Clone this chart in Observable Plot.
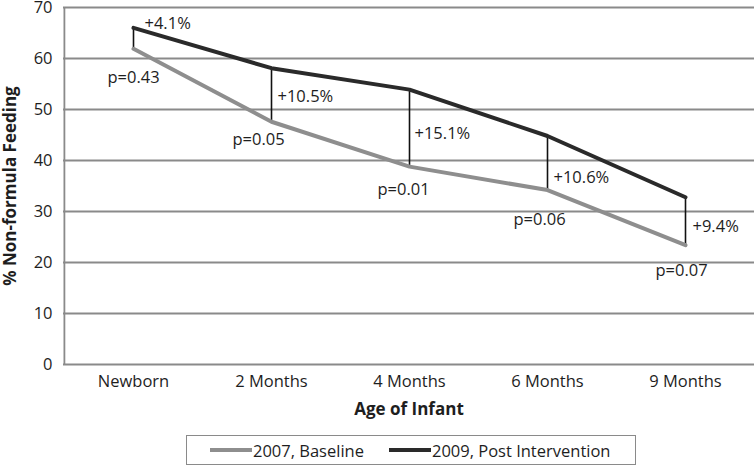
<!DOCTYPE html>
<html>
<head>
<meta charset="utf-8">
<script src="https://cdn.jsdelivr.net/npm/d3@7"></script>
<script src="https://cdn.jsdelivr.net/npm/@observablehq/plot@0.6"></script>
<style>
  html, body { margin: 0; padding: 0; background: #fff; }
  body { width: 754px; height: 475px; overflow: hidden; font-family: "Open Sans", sans-serif; color: #1e1e1e; }
  #legend {
    position: absolute; left: 186px; top: 435px; width: 448px; height: 28px;
    border: 1.5px solid #8a8a8a; box-sizing: content-box;
    display: flex; align-items: center; font-size: 16.5px;
  }
  .sw { display: inline-block; width: 42px; height: 4px; margin-right: 1px; }
  .item { display: flex; align-items: center; }
</style>
</head>
<body>
<div id="chart"></div>
<div id="legend"></div>
<script>
const categories = ["Newborn", "2 Months", "4 Months", "6 Months", "9 Months"];
const baseline2007 = [61.9, 47.6, 38.8, 34.2, 23.4];
const post2009 = [66.0, 58.1, 53.9, 44.8, 32.8];
const diffLabels = ["+4.1%", "+10.5%", "+15.1%", "+10.6%", "+9.4%"];
const pLabels = ["p=0.43", "p=0.05", "p=0.01", "p=0.06", "p=0.07"];
const yTicks = [0, 10, 20, 30, 40, 50, 60, 70];
const seriesNames = ["2007, Baseline", "2009, Post Intervention"];
const xTitle = "Age of Infant";
const yTitle = "% Non-formula Feeding";

const grayC = "#8e8e8e", blackC = "#2a2a2a", gridC = "#8a8a8a";

const rows = categories.map((c, i) => ({cat: c, base: baseline2007[i], post: post2009[i], diff: diffLabels[i], p: pLabels[i]}));
const baseRows = rows.map(r => ({cat: r.cat, v: r.base}));
const postRows = rows.map(r => ({cat: r.cat, v: r.post}));

// label layout offsets (pixels)
const diffDx = [11, 6, 5, 6, 7];
const diffDy = [-15, 2, 6, 15, 6];
const pDx = [0, -13, -6, -8, -4];
const pDy = [29, 18, 23, 30, 26];

const W = 754, H = 428, mL = 63, mR = 0;
const step = (W - mL - mR) / categories.length;
const FS = 16.5;

const marks = [
  Plot.ruleY(yTicks, {stroke: gridC, strokeWidth: 1.8}),
  Plot.ruleX([categories[0]], {dx: -step / 2, stroke: gridC, strokeWidth: 1.8, y1: 0, y2: 70}),
  Plot.link(rows, {x1: "cat", x2: "cat", y1: "base", y2: "post", stroke: "#111", strokeWidth: 1.6}),
  Plot.line(baseRows, {x: "cat", y: "v", stroke: grayC, strokeWidth: 4}),
  Plot.line(postRows, {x: "cat", y: "v", stroke: blackC, strokeWidth: 4}),
  Plot.text([xTitle], {frameAnchor: "bottom", dy: 50, lineAnchor: "bottom", textAnchor: "middle", fontWeight: "bold", fontSize: 17, fill: "#1e1e1e"}),
  Plot.text([yTitle], {frameAnchor: "left", dx: -53, textAnchor: "middle", lineAnchor: "middle", rotate: -90, fontWeight: "bold", fontSize: 17, fill: "#1e1e1e"})
];
rows.forEach((r, i) => {
  marks.push(Plot.text([r], {x: "cat", y: d => (d.base + d.post) / 2, text: "diff", textAnchor: "start", dx: diffDx[i], dy: diffDy[i], fontSize: FS, fill: "#1e1e1e"}));
  marks.push(Plot.text([r], {x: "cat", y: "base", text: "p", textAnchor: "middle", dx: pDx[i], dy: pDy[i], fontSize: FS, fill: "#1e1e1e"}));
});

const chart = Plot.plot({
  width: W, height: H,
  marginLeft: mL, marginRight: mR, marginTop: 7, marginBottom: H - 364,
  style: {fontFamily: "Open Sans", fontSize: FS + "px", color: "#1e1e1e", background: "#fff", overflow: "visible"},
  x: {type: "point", domain: categories, padding: 0.5, tickSize: 0, tickPadding: 11, label: null},
  y: {domain: [0, 70], ticks: yTicks, tickSize: 0, tickPadding: 11, label: null},
  marks
});
document.getElementById("chart").appendChild(chart);

const legend = document.getElementById("legend");
[[seriesNames[0], grayC, 23], [seriesNames[1], blackC, 25]].forEach(([name, col, ml]) => {
  const it = document.createElement("div");
  it.className = "item";
  it.style.marginLeft = ml + "px";
  const sw = document.createElement("span");
  sw.className = "sw"; sw.style.background = col;
  const t = document.createElement("span");
  t.textContent = name;
  it.appendChild(sw); it.appendChild(t);
  legend.appendChild(it);
});
</script>
</body>
</html>
